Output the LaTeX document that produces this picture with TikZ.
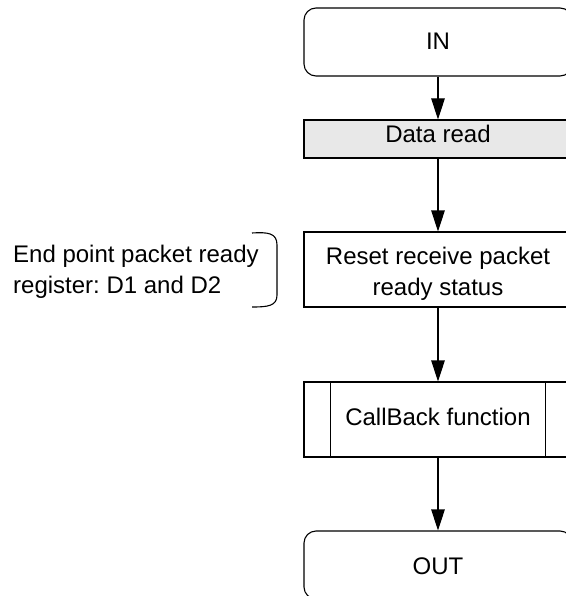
\documentclass[tikz,border=0pt]{standalone}
\usepackage{fontspec}
\setmainfont{Liberation Sans}
\usetikzlibrary{arrows.meta}
\frenchspacing
\begin{document}
\begin{tikzpicture}[x=1pt,y=-1pt,
  every node/.style={font=\fontsize{24}{31}\selectfont},
  box/.style={draw, line width=1.1pt, minimum width=268pt, inner sep=0pt},
  term/.style={box, rounded corners=12pt, minimum height=68pt},
  proc/.style={box, minimum height=75pt},
  txt/.style={inner sep=0pt, align=center, anchor=base},
  arr/.style={line width=1.1pt, -{Triangle[length=21pt,width=13.5pt]}}]
\useasboundingbox (0,0) rectangle (565,596);
\node[term] (in) at (438,42) {};
\node[txt] (intxt) at (438,50) {IN};
\node[box, fill=black!9, minimum height=38pt] (data) at (438,139) {};
\node[txt] (datatxt) at (438,142.6) {Data read};
\node[proc] (reset) at (438,269.5) {};
\node[txt] (resettxt) at (438,295.7) {Reset receive packet\\ready status};
\node[proc] (cb) at (438,419.5) {};
\node[txt] (cbtxt) at (438,425) {CallBack function};
\draw[line width=1.1pt] ([xshift=27pt]cb.north west) -- ([xshift=27pt]cb.south west);
\draw[line width=1.1pt] ([xshift=-27pt]cb.north east) -- ([xshift=-27pt]cb.south east);
\node[term] (out) at (438,565) {};
\node[txt] (outtxt) at (438,574.3) {OUT};
\draw[arr] (in) -- (data);
\draw[arr] (data) -- (reset);
\draw[arr] (reset) -- (cb);
\draw[arr] (cb) -- (out);
\node[align=left, anchor=base west, inner sep=0pt] (note) at (13,293.3) {End point packet ready\\register: D1 and D2};
\draw[line width=1.1pt] (252,233) .. controls (268,232) and (277,233) .. (277,245) -- (277,295) .. controls (277,306) and (268,307) .. (252,307);
\end{tikzpicture}
\end{document}
